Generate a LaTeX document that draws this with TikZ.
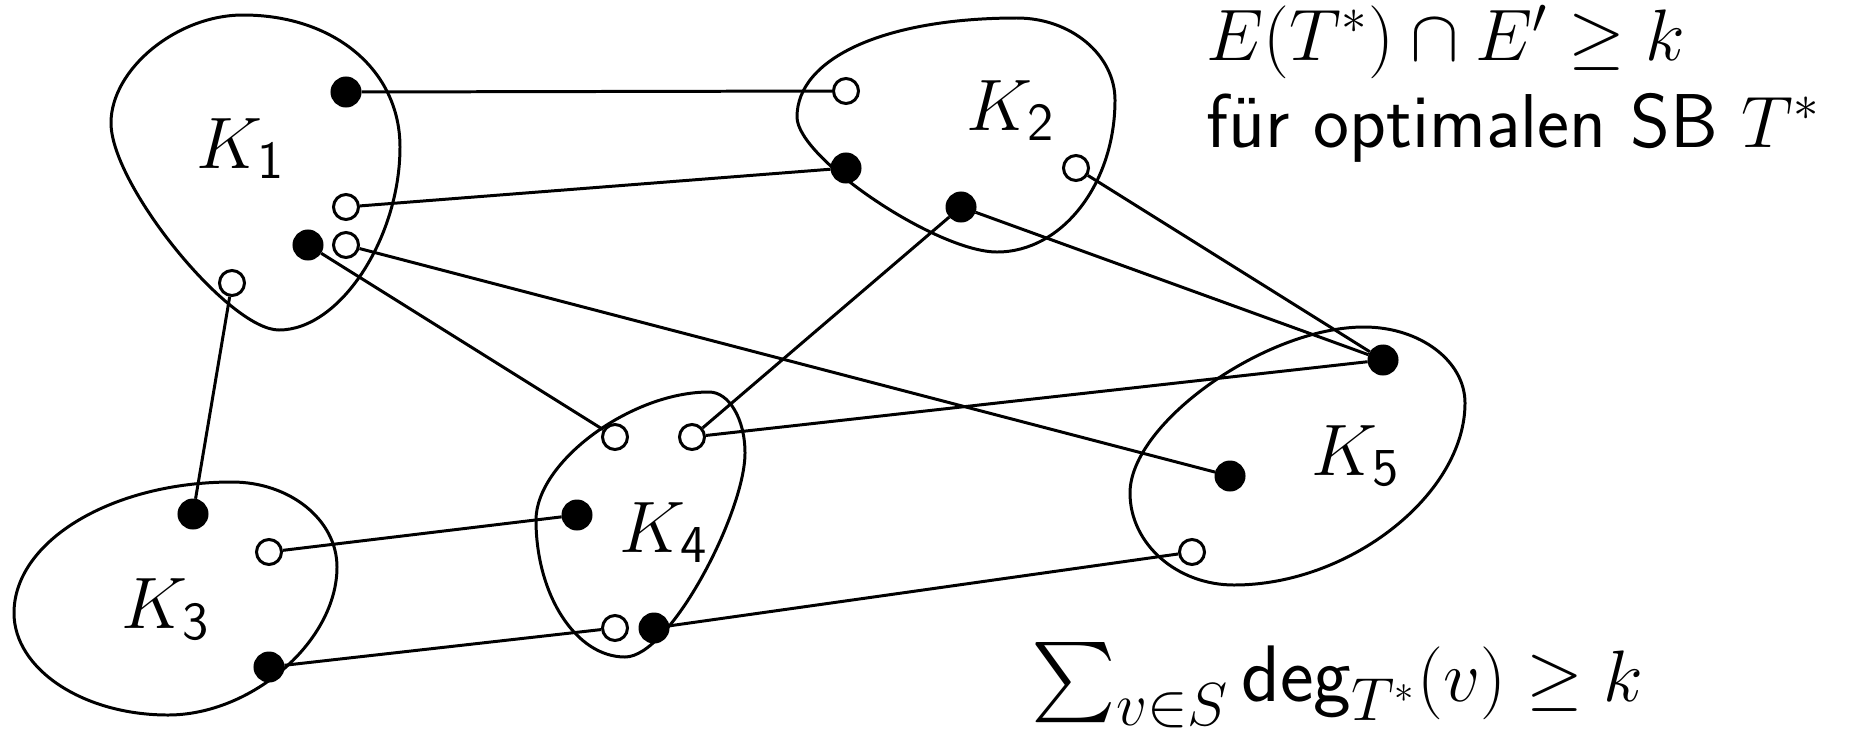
\documentclass[tikz,border=0pt]{standalone}
\usepackage{fontspec}
\usepackage{amsmath}
\usepackage{amssymb}
\usetikzlibrary{positioning}

\begin{document}
\begin{tikzpicture}[
    x=0.01cm, y=-0.01cm,
    line width=0.85pt,
    font=\fontsize{21.7}{26}\selectfont,
    full/.style={draw, circle, fill=black, minimum size=0.28cm, inner sep=0pt},
    hollow/.style={draw, circle, fill=white, minimum size=0.25cm, inner sep=0pt},
    blob/.style={draw},
    ktext/.style={inner sep=0pt, anchor=base west}
]
\useasboundingbox (0,0) rectangle (1855,736);

% Komponenten
\draw[blob] (243,15) .. controls (334,15) and (400,70) .. (400,147)
    .. controls (400,238) and (340,330) .. (279,330)
    .. controls (229,330) and (111,185) .. (111,123)
    .. controls (111,69) and (177,15) .. cycle;
\draw[blob] (797,117) .. controls (797,58) and (885,18) .. (1017,18)
    .. controls (1071,18) and (1115,55) .. (1115,100)
    .. controls (1115,184) and (1062,252) .. (997,252)
    .. controls (937,252) and (797,158) .. cycle;
\draw[blob] (14,613) .. controls (14,541) and (112,482) .. (232,482)
    .. controls (290,482) and (337,520) .. (337,567)
    .. controls (337,641) and (252,715) .. (168,715)
    .. controls (83,715) and (14,669) .. cycle;
\draw[blob] (709,392) .. controls (729,392) and (745,419) .. (745,453)
    .. controls (745,512) and (670,657) .. (625,657)
    .. controls (576,657) and (536,595) .. (536,520)
    .. controls (536,462) and (631,392) .. cycle;
\draw[blob] (1364,327) .. controls (1420,327) and (1465,361) .. (1465,403)
    .. controls (1465,494) and (1350,585) .. (1234,585)
    .. controls (1177,585) and (1130,544) .. (1130,493)
    .. controls (1130,423) and (1266,327) .. cycle;

% Namen
\node[ktext] (n1) at (195,168) {$K_{\mathsf{1}}$};
\node[ktext] (n2) at (965,130) {$K_{\mathsf{2}}$};
\node[ktext] (n3) at (120,628) {$K_{\mathsf{3}}$};
\node[ktext] (n4) at (618,552) {$K_{\mathsf{4}}$};
\node[ktext] (n5) at (1310,475) {$K_{\mathsf{5}}$};

% Knoten
\node[full] (k1a) at (346,92) {};
\node[hollow] (k1b) at (346,207) {};
\node[full] (k1c) at (308,245) {};
\node[hollow] (k1d) at (346,245) {};
\node[hollow] (k1e) at (232,283) {};

\node[hollow] (k2a) at (846,91) {};
\node[full] (k2b) at (846,168) {};
\node[full] (k2c) at (961,207) {};
\node[hollow] (k2d) at (1076,168) {};

\node[full] (k3a) at (193,514) {};
\node[hollow] (k3b) at (269,552) {};
\node[full] (k3c) at (269,667) {};

\node[hollow] (k4a) at (615,437) {};
\node[hollow] (k4b) at (692,437) {};
\node[full] (k4c) at (577,515) {};
\node[hollow] (k4d) at (615,628) {};
\node[full] (k4e) at (654,628) {};

\node[full] (k5a) at (1383,360) {};
\node[full] (k5b) at (1230,476) {};
\node[hollow] (k5c) at (1192,552) {};

% Kanten
\draw (k1a) -- (k2a);
\draw (k1b) -- (k2b);
\draw (k1c) -- (k4a);
\draw (k1d) -- (k5b);
\draw (k1e) -- (k3a);
\draw (k2c) -- (k4b);
\draw (k2c) -- (k5a);
\draw (k2d) -- (k5a);
\draw (k4b) -- (k5a);
\draw (k3b) -- (k4c);
\draw (k3c) -- (k4d);
\draw (k4e) -- (k5c);

% Text
\node[ktext] (t1) at (1205,60) {$E(T^*)\cap E'\geq k$};
\node[ktext] (t2) at (1205,147) {\sffamily für optimalen SB $T^*$};
\node[ktext, font=\fontsize{22.8}{27}\selectfont] (t3) at (1030,701) {$\sum_{v\in S}\mathsf{deg}_{T^*}(v)\geq k$};
\end{tikzpicture}
\end{document}
